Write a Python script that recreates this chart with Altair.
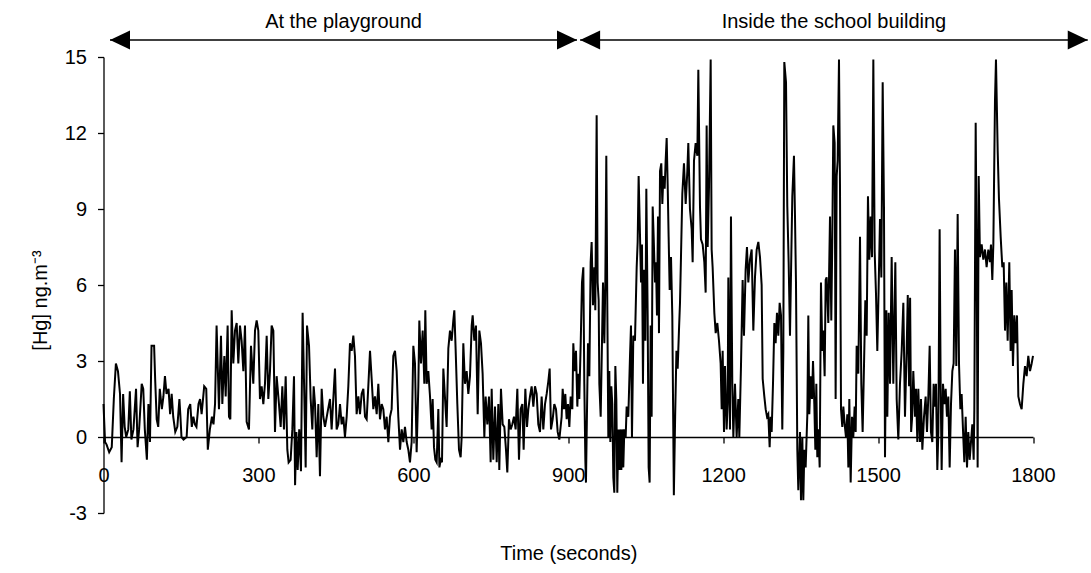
import altair as alt
import pandas as pd

# Mercury concentration trace, one reading every few seconds
time_s = [
    0, 3, 6, 11, 16, 20, 24, 28, 32, 35, 38, 41, 44, 48, 51, 54, 58, 63, 66, 69,
    74, 77, 80, 84, 87, 90, 93, 98, 100, 103, 106, 109, 113, 116, 119, 122, 126, 129, 132, 135,
    139, 143, 147, 149, 151, 155, 161, 164, 168, 171, 174, 177, 180, 184, 187, 190, 195, 199, 202, 206,
    210, 213, 216, 219, 223.6, 227.5, 230.1, 234, 236.6, 240.4, 243, 245.6, 248.2, 251.4, 254.6, 257.9, 261.1, 264.3, 267.5, 270.8,
    274, 277.2, 281.7, 285.6, 290.1, 293.4, 296.6, 299.8, 303, 306.3, 309.5, 312.7, 316, 319.2, 322.4, 325.6, 328.9, 332.1, 335.3, 339.8,
    343.1, 346.3, 349.5, 352.8, 356, 358.5, 362.4, 365.7, 368.9, 371, 373.5, 376, 379, 382.4, 385.6, 388.9, 391.5, 394.1, 398, 401.2,
    404.4, 407, 409.6, 412.8, 416, 419.2, 422.5, 425.7, 428.9, 434.1, 438.6, 441.8, 445, 448.3, 451.5, 454.7, 458, 461.2, 464.4, 467.6,
    470.9, 474.1, 477.3, 480.6, 483.8, 487, 490.2, 493.5, 496.7, 499.9, 503.2, 506.4, 509.6, 512.8, 516.1, 519.3, 522.5, 525.7, 529, 532.2,
    535.4, 538.7, 541.9, 545.1, 548.3, 551.6, 554.8, 558, 561.2, 564.5, 567.7, 570.9, 574.2, 577.4, 580.6, 583.8, 587.1, 590.3, 593.5, 596.7,
    600, 603.2, 606.4, 609.7, 611.6, 614.8, 618.1, 621.3, 623.2, 625.8, 629, 632.3, 635.5, 637.4, 640, 642.6, 645.2, 648.4, 650.5, 653,
    655.5, 658.1, 664.5, 667.8, 671, 674.2, 677.4, 679.4, 682, 685.2, 688.4, 691.6, 693.6, 696.8, 700, 703.3, 706.5, 709.7, 713, 714.9,
    718.1, 721.3, 724.6, 727.8, 731, 734.2, 737.5, 740, 743.3, 746.5, 749.7, 751.7, 754.9, 758.1, 761.4, 764.6, 766.5, 769.7, 773, 776.2,
    779.4, 782, 785.2, 788.5, 791.7, 794.9, 798.1, 801.4, 804.6, 807.8, 811.1, 813.6, 816.9, 820.1, 822.7, 825.9, 829.1, 832.4, 835.6, 838.8,
    842, 845.3, 848.5, 851.7, 855, 858.2, 861.4, 864, 866.6, 869.8, 873, 876.3, 879.5, 882.7, 887.2, 889.2, 891.7, 894.3, 896.9, 899.5,
    902.1, 904.7, 907.9, 909.8, 912.4, 915, 917.6, 919.5, 921.4, 924, 926.6, 929.2, 931.1, 933.1, 934.3, 938.2, 940.8, 943.4, 945.3, 947.9,
    950.5, 952.4, 955, 956.9, 958.9, 960.2, 962.8, 965.3, 967.3, 969.9, 971.8, 973.7, 975.7, 977.6, 979.5, 981.5, 983.4, 985.3, 987.3, 989.2,
    991.2, 993.1, 995, 997, 998.9, 1000.8, 1002.8, 1004.7, 1006.6, 1008.6, 1011.2, 1013.1, 1016.3, 1019.6, 1021.5, 1023.4, 1026, 1029.2, 1032.5, 1034.4,
    1036.3, 1038.9, 1040.9, 1042.8, 1044.7, 1046.7, 1049.3, 1051.2, 1053.8, 1055.7, 1057.6, 1059.6, 1061.5, 1063.5, 1065.4, 1068, 1069.9, 1071.8, 1073.8, 1075.7,
    1077.7, 1080.2, 1082.2, 1084.1, 1086.7, 1088.6, 1090.6, 1092.5, 1094.4, 1096.4, 1099, 1101.5, 1104.5, 1107, 1109.5, 1111.9, 1114.4, 1116.4, 1118.3, 1120.9,
    1124.1, 1127.4, 1130.6, 1132.5, 1135.7, 1139, 1140.9, 1143.5, 1146.7, 1150, 1151.9, 1155.1, 1157, 1160.3, 1163.5, 1166.1, 1168, 1170, 1172.5, 1175.8,
    1177.7, 1179.6, 1182.9, 1185.5, 1188.7, 1191.9, 1195.1, 1197.1, 1199, 1201.6, 1203.5, 1206.7, 1208.7, 1210, 1213.2, 1215.1, 1217.7, 1219.7, 1222.9, 1226.1,
    1229.3, 1231.3, 1234.5, 1237.7, 1240.3, 1243.5, 1246.1, 1248.7, 1251.9, 1255.2, 1258.4, 1261.6, 1264.9, 1268.1, 1271.3, 1274.5, 1276.5, 1279.7, 1282.3, 1284.9,
    1287.4, 1290, 1291.9, 1293.9, 1296.5, 1299.1, 1301.6, 1304.2, 1306.8, 1309.4, 1312, 1314.5, 1316.5, 1318.4, 1321.7, 1324.2, 1326.8, 1329.4, 1331.5, 1333.9,
    1337.1, 1339.1, 1341, 1343.6, 1345.5, 1348.8, 1350.7, 1353.3, 1355.2, 1357.2, 1359.7, 1363, 1364.9, 1366.8, 1369.4, 1372, 1374, 1376.5, 1378.5, 1380.4,
    1382.3, 1384.3, 1386.9, 1389.4, 1392, 1394, 1396.5, 1398.5, 1400.4, 1403.6, 1406.9, 1409.4, 1411.4, 1413.3, 1415.9, 1417.8, 1419.8, 1421.7, 1424.3, 1426.2,
    1428.2, 1430.7, 1432.7, 1435.3, 1437.8, 1440.4, 1442.4, 1444.3, 1446.9, 1449.5, 1452, 1454.6, 1456.6, 1458.5, 1461.7, 1465, 1467.5, 1470.1, 1472.7, 1475.3,
    1477.9, 1480.4, 1483, 1485.6, 1488.2, 1490.8, 1493.4, 1495.9, 1498.5, 1501.1, 1503.7, 1506.3, 1508.9, 1511.4, 1513.4, 1516, 1517.9, 1520.5, 1523.1, 1526.3,
    1529.5, 1533.4, 1536, 1539.2, 1542.4, 1545.7, 1548.9, 1552.1, 1555.3, 1557.5, 1560, 1562, 1564, 1566, 1568.2, 1571.5, 1573.4, 1576, 1577.9, 1581.1,
    1583.1, 1585.7, 1588.9, 1592.1, 1594.7, 1597.3, 1599.9, 1602.4, 1605, 1607.6, 1610.2, 1612.1, 1614.7, 1616.7, 1619.2, 1621.2, 1623.1, 1625.7, 1628.3, 1630.9,
    1633.4, 1636, 1638.6, 1641.2, 1643.8, 1646.3, 1648.9, 1651.5, 1654.1, 1656.7, 1659.3, 1661.8, 1664.4, 1667, 1669.6, 1672.2, 1674.7, 1677.3, 1679.9, 1682.5,
    1685.1, 1686.4, 1689, 1690.9, 1692.8, 1694.8, 1697.3, 1700.6, 1703.8, 1707, 1710.2, 1713.5, 1716.7, 1718.6, 1721.2, 1723.2, 1726.4, 1728.3, 1731.6, 1734.1,
    1737.4, 1740.6, 1743.2, 1745.8, 1748.3, 1750.9, 1754.1, 1756.7, 1758.7, 1761.2, 1763.8, 1766.4, 1769, 1771.6, 1774.8, 1778, 1781.3, 1784.5, 1787.7, 1790.9,
    1794.2, 1797.4, 1800,
]
hg_ng_m3 = [
    1.3, -0.2, -0.3, -0.6, -0.4, 1.5, 2.9, 2.6, 1.7, -1.0, 1.7, 0.4, 0.0, 0.3, 1.8, -0.1, 0.3, 1.9, -0.4, 0.3,
    2.1, 1.9, 0.3, -0.9, 1.3, -0.2, 3.6, 3.6, 2.3, 0.7, 0.4, 1.9, 1.1, 1.6, 2.4, 1.7, 1.9, 0.9, 1.7, 0.8,
    0.2, 0.4, 1.5, 0.8, 0.0, -0.1, 0.0, 1.1, 1.3, 0.4, 0.8, 0.5, 0.4, 1.3, 1.5, 0.9, 2.0, 1.9, -0.5, 0.3,
    0.8, 0.5, 1.3, 4.4, 1.1, 4.0, 1.3, 3.2, 1.6, 4.4, 0.8, 0.7, 5.0, 2.9, 4.2, 4.5, 2.9, 4.4, 3.8, 2.6,
    4.4, 0.6, 0.3, 3.6, 2.1, 4.2, 4.6, 4.2, 1.5, 2.0, 1.3, 2.1, 4.0, 1.5, 2.6, 4.4, 4.2, 0.2, 2.4, 1.3,
    0.4, 2.0, 0.3, 2.4, -0.5, -1.0, -0.9, 0.3, 2.4, -1.9, 0.2, -1.3, 0.3, -1.35, 4.9, 1.6, -1.2, 4.4, 3.6, 1.5,
    0.3, 2.0, 1.3, -0.8, 1.3, -1.55, 1.9, 0.8, 0.4, 1.0, 1.5, 0.3, 1.5, 2.7, 0.3, 0.5, 1.3, 0.5, 0.8, 0.0,
    0.8, 2.0, 3.7, 3.4, 4.0, 3.2, 0.9, 1.6, 0.9, 1.7, 1.9, 0.8, 0.7, 2.0, 3.4, 2.3, 1.1, 1.6, 0.9, 2.1,
    0.7, 1.3, 1.1, 0.3, 0.8, -0.2, 0.8, 1.1, 3.2, 3.4, 2.6, 0.8, -0.5, 0.3, -0.2, 0.4, -0.2, -0.5, -1.0, -0.2,
    3.6, 2.9, -0.6, 2.0, 4.6, 2.9, 4.2, 2.1, 5.0, 2.1, 2.6, 1.6, 0.3, 1.5, -0.4, -0.9, -1.0, 1.1, -1.2, -0.9,
    -1.0, 2.7, 0.4, 3.5, 4.2, 3.8, 4.6, 5.0, 3.4, 1.3, -0.5, -0.8, 0.0, 3.7, 2.1, 2.6, 1.7, 2.4, 4.4, 4.8,
    3.8, 4.4, 0.9, 4.2, 3.7, 2.5, 0.0, 1.6, 0.5, 1.6, -1.0, 1.9, -0.9, 1.2, -1.0, 1.3, -1.3, 1.9, 0.5, 0.4,
    -0.5, -1.4, 0.7, 0.3, 0.5, 0.8, 0.3, 1.9, -0.9, 1.1, 1.3, -0.5, 1.9, 0.4, 1.1, 1.6, 2.0, 1.2, 2.0, 1.7,
    0.5, 0.2, 1.6, 0.3, 1.3, 1.7, 2.2, 2.7, 0.3, 0.7, 1.3, 1.1, 0.2, -0.1, 0.8, 1.9, 1.1, 1.7, 0.7, 1.3,
    0.4, 1.6, 1.1, 3.7, 2.6, 3.4, 1.2, 2.5, 1.5, 3.6, 6.1, 6.7, 2.1, -0.9, -1.8, 3.7, 2.4, 6.9, 7.7, 5.2,
    6.7, 5.0, 12.7, 6.1, 5.4, 2.1, 0.8, 3.7, 6.1, 3.7, 6.1, 11.1, 5.0, 0.0, 2.6, -0.2, 2.0, 1.3, -1.6, -2.2,
    2.8, 1.5, -2.2, 0.3, -1.3, 0.3, -1.3, 0.3, -1.2, 0.3, 0.0, 1.2, 0.8, 3.2, 4.4, 0.0, 4.0, 3.8, 6.7, 7.7,
    10.3, 8.0, 6.1, 7.6, 2.1, 6.6, 3.8, 9.8, 4.8, -1.2, -1.8, 4.4, 0.8, 9.1, 7.9, 6.1, 6.9, 4.8, 8.7, 4.1,
    10.5, 10.8, 9.2, 10.3, 9.8, 10.9, 11.8, 10.0, 7.9, 5.8, 7.1, 4.8, -2.3, 0.8, 3.4, 2.7, 4.2, 5.3, 7.1, 9.6,
    10.8, 9.2, 10.5, 11.6, 9.0, 8.2, 6.9, 10.9, 11.6, 11.1, 14.5, 9.1, 7.8, 7.6, 6.9, 5.7, 12.3, 7.5, 9.8, 14.9,
    7.4, 6.7, 4.9, 4.1, 4.5, 3.8, 2.9, 1.1, 3.4, 0.2, 2.8, 0.3, 1.3, 6.3, 0.3, 8.7, 2.1, 0.0, 2.1, 0.0,
    1.5, 0.0, 2.8, 6.2, 4.0, 6.6, 7.5, 6.1, 7.0, 7.4, 4.2, 6.3, 7.4, 7.7, 7.1, 6.0, 2.3, 1.6, 1.1, 0.8,
    0.9, -0.4, 0.8, 0.2, 2.1, 4.5, 3.7, 4.9, 4.0, 5.3, 4.8, 0.3, 3.4, 14.8, 14.0, 9.1, 6.9, 4.0, 6.6, 9.5,
    11.1, 8.7, 6.1, -0.5, -2.1, 0.2, -2.5, 0.0, -2.5, -0.5, -1.2, 0.9, 4.8, 0.9, 2.4, 1.5, 3.0, 1.3, -0.5, 2.1,
    -0.8, 0.3, -1.2, 6.1, 3.4, 4.2, 2.4, 6.2, 6.3, 4.5, 8.7, 4.6, 7.9, 12.3, 11.6, 1.5, 10.3, 10.9, 14.9, 10.0,
    1.1, 0.4, 1.2, 0.5, 0.0, 0.9, -1.2, 1.5, -1.8, 0.8, 0.0, 1.2, 0.2, 3.6, 2.5, 7.9, 2.1, 0.2, 2.8, 5.4,
    4.0, 9.5, 7.0, 8.7, 7.1, 14.9, 7.3, 5.7, 3.4, 5.9, 8.6, 6.3, 14.0, 9.1, -0.8, 5.0, 0.8, 4.9, 2.1, 7.1,
    2.1, 6.9, 1.5, -0.1, 2.1, 3.4, 5.3, 0.8, 3.4, 5.6, 2.0, 5.5, 0.2, 0.8, 2.6, 0.8, 1.9, -0.2, 1.9, -0.2,
    1.5, -0.5, 0.8, 1.6, 0.2, 1.6, 3.6, 0.2, -0.2, 2.1, 1.2, 2.1, -1.3, 0.2, 8.2, 1.9, -1.3, 2.1, 1.3, 1.9,
    0.8, 1.6, -1.2, 1.3, 2.6, 2.9, 7.4, 2.8, 8.8, 2.9, 1.1, 1.7, 0.3, -1.0, 0.8, -1.2, 0.2, -0.9, -0.2, 0.5,
    -0.9, 1.1, 12.4, 7.1, -1.2, 10.3, 7.1, 7.6, 7.0, 7.4, 6.7, 7.4, 6.9, 7.6, 6.2, 7.6, 13.3, 14.9, 11.3, 9.4,
    7.9, 6.7, 6.9, 4.2, 6.1, 3.8, 6.9, 3.4, 5.8, 2.8, 4.8, 3.7, 4.8, 1.6, 1.3, 1.1, 2.1, 2.8, 2.4, 3.2,
    2.6, 2.9, 3.2,
]

x_ticks = [0, 300, 600, 900, 1200, 1500, 1800]
y_ticks = [-3, 0, 3, 6, 9, 12, 15]

# Measurement periods shown as double arrows above the plot
period_labels = ["At the playground", "Inside the school building"]
period_start = [12.6, 923]
period_end = [917, 1906]

FONT = "Liberation Sans"
FONT_SIZE = 20

series = pd.DataFrame({"t": time_s, "hg": hg_ng_m3})
periods = pd.DataFrame({"label": period_labels, "start": period_start, "end": period_end})

x_scale = alt.Scale(domain=[0, 1800], nice=False, zero=False)
y_scale = alt.Scale(domain=[-3, 15], nice=False, zero=False)

x_axis = alt.Axis(
    values=x_ticks,
    format="d",
    title="Time (seconds)",
    offset=-76,
    labelFlush=False,
    labelPadding=22,
    titleY=116,
    titleBaseline="middle",
)

trace = alt.Chart(series).mark_line(color="black", strokeWidth=2, clip=False).encode(
    x=alt.X("t:Q", scale=x_scale, axis=x_axis),
    y=alt.Y(
        "hg:Q",
        scale=y_scale,
        axis=alt.Axis(
            values=y_ticks,
            title="[Hg] ng.m⁻³",
            labelPadding=11,
            labelExpr="'' + datum.value",
            titleX=-63,
            titleY=243,
            titleAlign="center",
            titleBaseline="middle",
            titleAngle=270,
        ),
    ),
)

arrow_lines = alt.Chart(periods).mark_rule(color="black", strokeWidth=1.5).encode(
    x=alt.X("start:Q", scale=x_scale, axis=x_axis),
    x2="end:Q",
    y=alt.value(-17),
)

heads_left = alt.Chart(periods).mark_point(
    shape="M0,0L2,-0.95L2,0.95Z", size=400, filled=True, color="black", opacity=1, strokeWidth=0
).encode(x=alt.X("start:Q", scale=x_scale, axis=x_axis), y=alt.value(-17))

heads_right = alt.Chart(periods).mark_point(
    shape="M0,0L-2,-0.95L-2,0.95Z", size=400, filled=True, color="black", opacity=1, strokeWidth=0
).encode(x=alt.X("end:Q", scale=x_scale, axis=x_axis), y=alt.value(-17))

period_text = alt.Chart(periods).transform_calculate(
    mid="(datum.start + datum.end) / 2"
).mark_text(font=FONT, fontSize=FONT_SIZE, color="black", align="center", baseline="middle").encode(
    x=alt.X("mid:Q", scale=x_scale, axis=x_axis),
    y=alt.value(-35),
    text="label:N",
)

chart = (
    alt.layer(trace, arrow_lines, heads_left, heads_right, period_text)
    .properties(
        width=929.5,
        height=456,
        autosize=alt.AutoSizeParams(type="none"),
        padding={"left": 103.5, "top": 57, "right": 58, "bottom": 60},
        background="white",
    )
    .configure_view(stroke=None)
    .configure_axis(
        grid=False,
        domainColor="black",
        domainWidth=1.3,
        tickColor="black",
        tickWidth=1.3,
        tickSize=6,
        labelFont=FONT,
        labelFontSize=FONT_SIZE,
        labelColor="black",
        titleFont=FONT,
        titleFontSize=FONT_SIZE,
        titleFontWeight="normal",
        titleColor="black",
    )
)

chart.save("out.html", embed_options={"renderer": "svg", "actions": False})
